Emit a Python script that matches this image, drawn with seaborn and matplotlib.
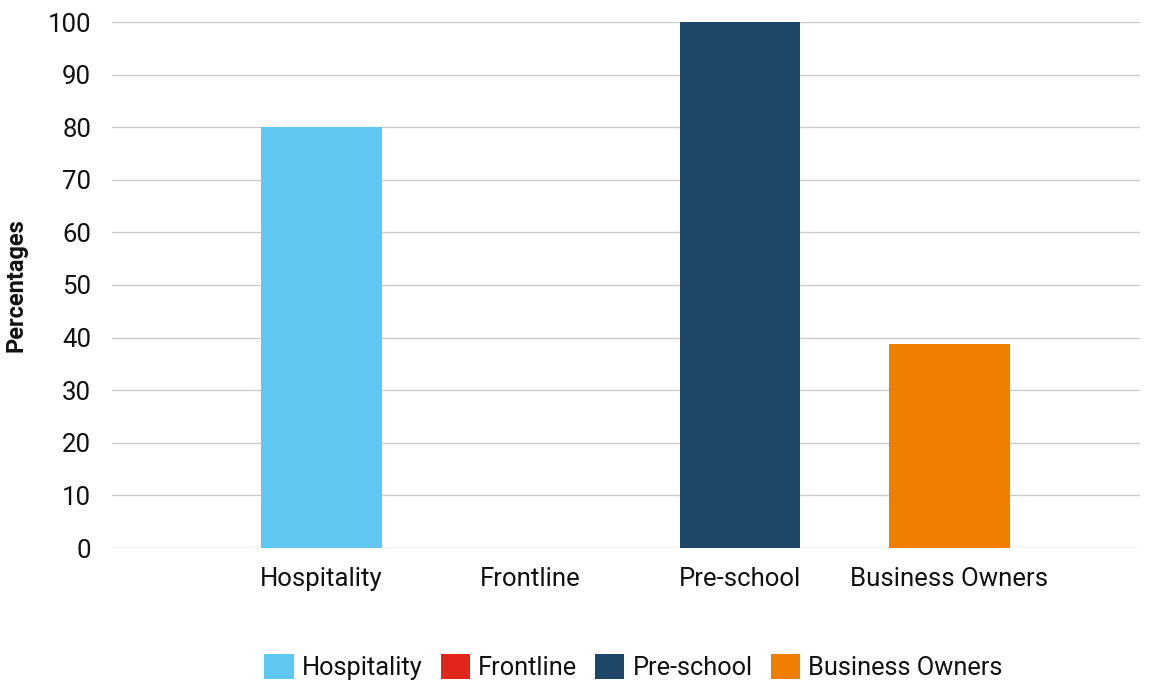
import matplotlib
matplotlib.use("Agg")
import matplotlib.pyplot as plt
import seaborn as sns
import pandas as pd

categories = ["Hospitality", "Frontline", "Pre-school", "Business Owners"]
values = [80, 0, 100, 38.7]
colors = ["#5FC7F1", "#E3261B", "#1D4669", "#F07F00"]
yticks = [0, 10, 20, 30, 40, 50, 60, 70, 80, 90, 100]

sns.set_theme(style="white")
plt.rcParams["font.family"] = ["Roboto", "DejaVu Sans"]

df = pd.DataFrame({"category": categories, "value": values})

fig = plt.figure(figsize=(11.54, 6.83), dpi=100)
ax = fig.add_axes([112 / 1154, 1 - 548 / 683, (1140 - 112) / 1154, (548 - 22) / 683])

sns.barplot(data=df, x="category", y="value", hue="category", order=categories,
            hue_order=categories, palette=colors, dodge=False, width=0.575,
            ax=ax, legend=False, saturation=1, linewidth=0)

ax.set_ylim(0, 100)
ax.set_xlim(-1.0, 3.91)
ax.set_yticks(yticks)
ax.yaxis.grid(True, color="#CCCCCC", linewidth=1)
ax.set_axisbelow(True)
for s in ax.spines.values():
    s.set_visible(False)
ax.tick_params(axis="both", length=0, colors="#111111")
ax.tick_params(axis="y", pad=15, labelsize=18.5)
ax.tick_params(axis="x", pad=14, labelsize=18.5)
ax.set_xlabel("")
ax.set_ylabel("Percentages", fontsize=17, fontweight="bold", color="#111111")
ax.yaxis.set_label_coords(-0.082, 0.5)

from matplotlib.patches import Patch
handles = [Patch(facecolor=c, edgecolor="none") for c in colors]
fig.legend(handles, categories, loc="center", bbox_to_anchor=(0.549, 1 - 667 / 683),
           ncol=4, frameon=False, fontsize=18.3, handlelength=1.15, handleheight=1.15,
           handletextpad=0.33, columnspacing=0.7, labelcolor="#111111")

fig.savefig("out.png", dpi=100)
